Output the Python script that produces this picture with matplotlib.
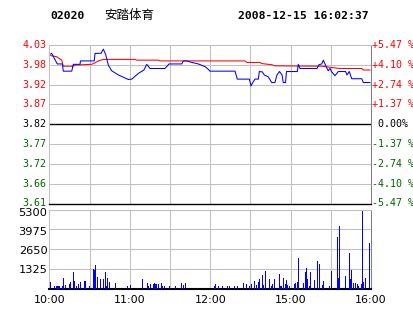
import matplotlib
matplotlib.use("Agg")
import matplotlib.pyplot as plt
import numpy as np

# ---------------- data ----------------
stock_code = "02020"
stock_name = "安踏体育"
timestamp = "2008-12-15 16:02:37"
prev_close = 3.82
pct_range = 5.47

price_labels = ["4.03", "3.98", "3.92", "3.87", "3.82", "3.77", "3.72", "3.66", "3.61"]
pct_labels = ["+5.47 %", "+4.10 %", "+2.74 %", "+1.37 %", " 0.00%",
              "-1.37 %", "-2.74 %", "-4.10 %", "-5.47 %"]
time_labels = ["10:00", "11:00", "12:00", "15:00", "16:00"]
time_pos = [0, 60, 120, 180, 240]          # trading minutes since 10:00
vol_labels = ["5300", "3975", "2650", "1325"]
vol_ticks = [5300, 3975, 2650, 1325]

price_min = [0.9, 1.6, 5.8, 9.6, 10.3, 16.6, 17.8, 22.8, 23.1, 33.4, 34.0, 38.4, 40.2, 42.0,
             43.9, 46.4, 51.4, 58.8, 61.4, 66.3, 70.5, 72.6, 75.0, 86.2, 89.2, 98.7, 99.9,
             102.4, 106.2, 111.1, 116.1, 118.5, 119.8, 138.5, 140.2, 149.2, 150.4, 152.1, 153.4,
             155.9, 156.6, 158.9, 160.3, 163.3, 165.9, 168.3, 169.8, 171.7, 173.6, 174.5,
             176.2, 176.9, 185.0, 185.7, 187.0, 199.7, 201.2, 203.2, 204.4, 206.0, 207.2,
             208.1, 209.4, 210.7, 213.1, 215.6, 221.0, 222.1, 223.8, 225.6, 233.1, 234.3, 239.3]
price = [4.005, 4.007, 3.979, 3.979, 3.960, 3.960, 3.978, 3.978, 3.987, 3.987, 4.007, 4.007,
         4.018, 4.003, 3.976, 3.961, 3.950, 3.938, 3.939, 3.954, 3.963, 3.978, 3.967, 3.967,
         3.979, 3.979, 3.987, 3.987, 3.983, 3.979, 3.972, 3.965, 3.960, 3.960, 3.939, 3.939,
         3.921, 3.932, 3.939, 3.939, 3.959, 3.958, 3.950, 3.945, 3.930, 3.930, 3.950, 3.959,
         3.950, 3.930, 3.930, 3.959, 3.959, 3.978, 3.967, 3.967, 3.977, 3.979, 3.989, 3.976,
         3.967, 3.961, 3.967, 3.958, 3.948, 3.959, 3.959, 3.950, 3.959, 3.940, 3.940, 3.930,
         3.930]

avg_min = [0.9, 5.4, 9.1, 10.3, 17.8, 19.0, 31.5, 34.0, 36.4, 40.2, 63.8, 65.1, 81.2, 82.5,
           145.9, 147.2, 157.1, 158.4, 165.9, 168.3, 203.2, 205.7, 211.9, 216.9, 233.1,
           234.3, 239.3]
avg = [4.001, 3.998, 3.989, 3.973, 3.973, 3.976, 3.978, 3.982, 3.987, 3.991, 3.991, 3.989,
       3.989, 3.987, 3.987, 3.983, 3.983, 3.980, 3.977, 3.974, 3.973, 3.972, 3.969, 3.967,
       3.967, 3.963, 3.963]

vol_min = [0.4, 1.1, 3.4, 5.6, 6.6, 7.3, 9.6, 10.3, 11.6, 14.6, 16.0, 17.8, 19.0, 20.5, 22.0,
           23.5, 26.5, 29.5, 32.7, 33.5, 34.2, 35.7, 38.4, 40.2, 41.7, 42.4, 43.1, 44.6, 49.1,
           58.1, 60.3, 69.3, 73.0, 73.8, 75.2, 77.6, 78.4, 79.1, 80.0, 81.0, 83.8, 84.5, 86.2,
           89.4, 93.9, 98.4, 99.9, 101.4, 123.0, 123.8, 126.0, 129.0, 132.7, 134.2, 137.9,
           140.2, 144.7, 146.9, 149.2, 150.6, 152.9, 154.4, 155.9, 156.6, 159.1, 159.9, 161.6,
           164.1, 165.6, 166.8, 167.8, 171.6, 172.3, 173.0, 174.5, 176.0, 176.8, 177.5, 178.8,
           182.7, 183.5, 185.0, 185.7, 189.4, 190.9, 191.7, 192.4, 193.9, 194.7, 197.7, 199.9,
           201.4, 203.6, 204.4, 208.9, 210.4, 214.8, 215.6, 216.3, 220.8, 223.8, 224.6, 225.3,
           226.8, 228.3, 229.8, 230.5, 232.8, 233.5, 234.3, 235.7, 238.7]
vol = [470, 160, 160, 170, 190, 190, 160, 750, 230, 300, 450, 1160, 520, 160, 300,
       450, 520, 160, 1370, 1300, 1650, 800, 660, 660, 1160, 210, 730, 450, 380,
       160, 230, 660, 380, 160, 300, 300, 380, 350, 300, 300, 380, 210, 160,
       160, 160, 380, 230, 380, 160, 300, 160, 160, 160, 160, 160,
       160, 380, 300, 160, 300, 520, 230, 450, 660, 940, 230, 1230,
       660, 160, 300, 660, 1015, 160, 160, 730, 300, 590, 230, 160,
       300, 380, 450, 2150, 380, 1160, 1440, 660, 160, 1160, 590, 1940,
       1725, 230, 520, 160, 1230, 3640, 730, 4420, 870, 2500, 660, 1300,
       380, 380, 300, 160, 300, 5490, 450, 730, 3220]

# ---------------- figure ----------------
W, H = 414, 314
fig = plt.figure(figsize=(W / 100, H / 100), dpi=100)
fig.patch.set_facecolor("white")

def fx(px):
    return px / W

def fy(py):
    return 1 - py / H

GRID = "#c0c0c0"
RED = "#ff0000"
GREEN = "#006400"
BLUE = "#0000ff"
LW = 0.75

L, R = 49.5, 371.0
ax = fig.add_axes([fx(L), fy(203.5), fx(R - L), (203.5 - 45) / H])
axv = fig.add_axes([fx(L), fy(288.5), fx(R - L), (288.5 - 209.5) / H])

ymin = prev_close * (1 - pct_range / 100)
ymax = prev_close * (1 + pct_range / 100)
levels = np.linspace(ymax, ymin, len(price_labels))

for a in (ax, axv):
    a.set_xlim(0, 240)
    a.set_xticks([])
    a.set_yticks([])
    for s in a.spines.values():
        s.set_color(GRID)
        s.set_linewidth(LW)
    a.spines["bottom"].set_color("black")
    a.spines["right"].set_color("#808080")
    for t in np.arange(30, 240, 30):
        a.axvline(t, color=GRID, lw=LW, zorder=0)

ax.set_ylim(ymin, ymax)
for i, lv in enumerate(levels[1:-1], start=1):
    c = "black" if i == 4 else GRID
    ax.axhline(lv, color=c, lw=LW if i != 4 else 1.0, zorder=0.5 if i != 4 else 1)
ax.spines["bottom"].set_linewidth(1.0)

ax.plot(avg_min, avg, color=RED, lw=LW, zorder=3)
ax.plot(price_min, price, color=BLUE, lw=LW, zorder=4)

mono = "DejaVu Sans Mono"
for i, (lv, lab, plab) in enumerate(zip(levels, price_labels, pct_labels)):
    c = RED if i < 4 else ("black" if i == 4 else GREEN)
    ax.text(-0.01, lv, lab, transform=ax.get_yaxis_transform(), ha="right", va="center",
            color=c, family=mono, fontsize=7.2)
    ax.text(1.003, lv, plab, transform=ax.get_yaxis_transform(), ha="left", va="center",
            color=c, family=mono, fontsize=7.2)

# volume panel
vtop = vol_ticks[0] * 79 / 75
axv.set_ylim(0, vtop)
for k in (1, 2, 3):
    axv.axhline(vtop * k / 4, color=GRID, lw=LW, zorder=0)
axv.spines["bottom"].set_linewidth(1.5)
axv.bar(vol_min, vol, width=0.75, color=BLUE, align="center", zorder=3, linewidth=0)
for lab, v in zip(vol_labels, vol_ticks):
    axv.text(-0.006, v, lab, transform=axv.get_yaxis_transform(), ha="right", va="center",
             color="black", family="DejaVu Sans", fontsize=8.2)
for lab, t in zip(time_labels, time_pos):
    axv.text(t, -0.08, lab, transform=axv.get_xaxis_transform(), ha="center", va="top",
             color="black", family="DejaVu Sans", fontsize=8)

# header
fig.text(fx(50), fy(16), stock_code, family=mono, fontweight="bold", fontsize=8.2,
         ha="left", va="center", color="black")
fig.text(fx(104), fy(16), stock_name, family=["Noto Sans CJK SC", "DejaVu Sans"],
         fontsize=9, ha="left", va="center", color="black")
fig.text(fx(238), fy(16), timestamp, family=mono, fontweight="bold", fontsize=8.2,
         ha="left", va="center", color="black")

fig.savefig("out.png", dpi=100, facecolor="white")
